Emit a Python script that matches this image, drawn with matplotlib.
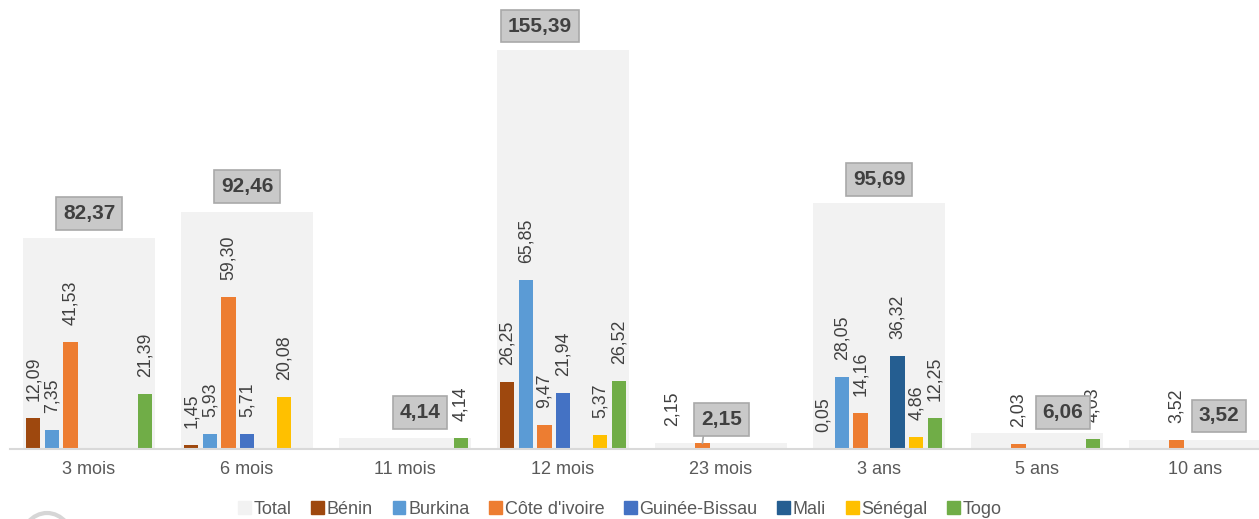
import matplotlib
matplotlib.use("Agg")
import matplotlib.pyplot as plt
from matplotlib.patches import Patch, Arc
import numpy as np

plt.rcParams['font.family'] = ['Liberation Sans', 'DejaVu Sans']

categories = ["3 mois", "6 mois", "11 mois", "12 mois", "23 mois", "3 ans", "5 ans", "10 ans"]
totals = [82.37, 92.46, 4.14, 155.39, 2.15, 95.69, 6.06, 3.52]
countries = ["Bénin", "Burkina", "Côte d'ivoire", "Guinée-Bissau", "Mali", "Sénégal", "Togo"]
benin = [12.09, 1.45, 0, 26.25, 0, 0.05, 0, 0]
burkina = [7.35, 5.93, 0, 65.85, 0, 28.05, 0, 0]
cote = [41.53, 59.30, 0, 9.47, 2.15, 14.16, 2.03, 3.52]
guinee = [0, 5.71, 0, 21.94, 0, 0, 0, 0]
mali = [0, 0, 0, 0, 0, 36.32, 0, 0]
senegal = [0, 20.08, 0, 5.37, 0, 4.86, 0, 0]
togo = [21.39, 0, 4.14, 26.52, 0, 12.25, 4.03, 0]
series = [benin, burkina, cote, guinee, mali, senegal, togo]

colors = ["#9e480e", "#5b9bd5", "#ed7d31", "#4472c4", "#255e91", "#ffc000", "#70ad47"]
total_color = "#f2f2f2"

# total label offsets (pixels) relative to category centre / bar top
box_offsets = [(0, 24), (0, 25), (15, 26), (-23, 24), (0, 25), (0, 24), (26, 21), (24, 24)]
# manual horizontal shifts (pixels) for some value labels: (category, series) -> dx
label_shift = {(4, 2): -30}

W, H = 1259, 519
fig = plt.figure(figsize=(W / 100, H / 100), dpi=100)
ax = fig.add_axes([10 / W, 1 - 449 / H, 1249 / W, 449 / H])
ax.set_xlim(-0.5, -0.5 + 1249 / 158)
ax.set_ylim(0, 449 / 2.567)

x = np.arange(len(categories))
ax.bar(x, totals, width=0.835, color=total_color, zorder=1)

slot = 0.1177
bw = 0.092
for j, (vals, c) in enumerate(zip(series, colors)):
    xs = x + (j - 3) * slot
    ax.bar(xs, vals, width=bw, color=c, zorder=2)
    for i, (xi, v) in enumerate(zip(xs, vals)):
        if v > 0:
            ax.annotate(f"{v:.2f}".replace('.', ','), (xi, v),
                        xytext=(label_shift.get((i, j), 0), 17),
                        textcoords='offset pixels', rotation=90, ha='center', va='bottom',
                        fontsize=12.8, color='#404040', zorder=5)

box_style = dict(boxstyle='square,pad=0.33', fc='#c9c9c9', ec='#a9a9a9', lw=1.2)
for i, t in enumerate(totals):
    dx, dy = box_offsets[i]
    label = f"{t:.2f}".replace('.', ',')
    if i == 4:
        # leader line to the Côte d'ivoire bar
        ax.annotate(label, (x[i] + (2 - 3) * slot, cote[i]), xytext=(19, 24),
                    textcoords='offset pixels', ha='center', va='center',
                    fontsize=15, fontweight='bold', color='#404040', bbox=box_style,
                    arrowprops=dict(arrowstyle='-', color='#a6a6a6', lw=1.2,
                                    relpos=(0, 0.72), shrinkA=0, shrinkB=0,
                                    connectionstyle='angle,angleA=0,angleB=83,rad=0'),
                    zorder=6)
    else:
        ax.annotate(label, (x[i] + dx / 158, t), xytext=(0, dy),
                    textcoords='offset pixels', ha='center', va='center',
                    fontsize=15, fontweight='bold', color='#404040', bbox=box_style,
                    zorder=6)

for s in ['top', 'right', 'left']:
    ax.spines[s].set_visible(False)
ax.spines['bottom'].set_color('#d9d9d9')
ax.spines['bottom'].set_linewidth(1.5)
ax.set_yticks([])
ax.set_xticks(x)
ax.set_xticklabels(categories, fontsize=13, color='#595959')
ax.tick_params(axis='x', length=0, pad=9)

handles = [Patch(color=total_color, label="Total")] + \
          [Patch(color=c, label=n) for c, n in zip(colors, countries)]
leg = fig.legend(handles=handles, loc='center', bbox_to_anchor=(620 / W, 1 - 509 / H),
                 ncol=8, frameon=False, fontsize=13, handlelength=0.7, handleheight=0.7,
                 handletextpad=0.15, columnspacing=1.1, borderaxespad=0)
for txt in leg.get_texts():
    txt.set_color('#595959')

# faint watermark arc bottom-left
fig.add_artist(Arc((47 / W, 1 - 545 / H), 54 / W, 64 / H, theta1=0, theta2=180,
                   transform=fig.transFigure, color='#d6d6d6', lw=3))

fig.savefig("out.png", dpi=100)
